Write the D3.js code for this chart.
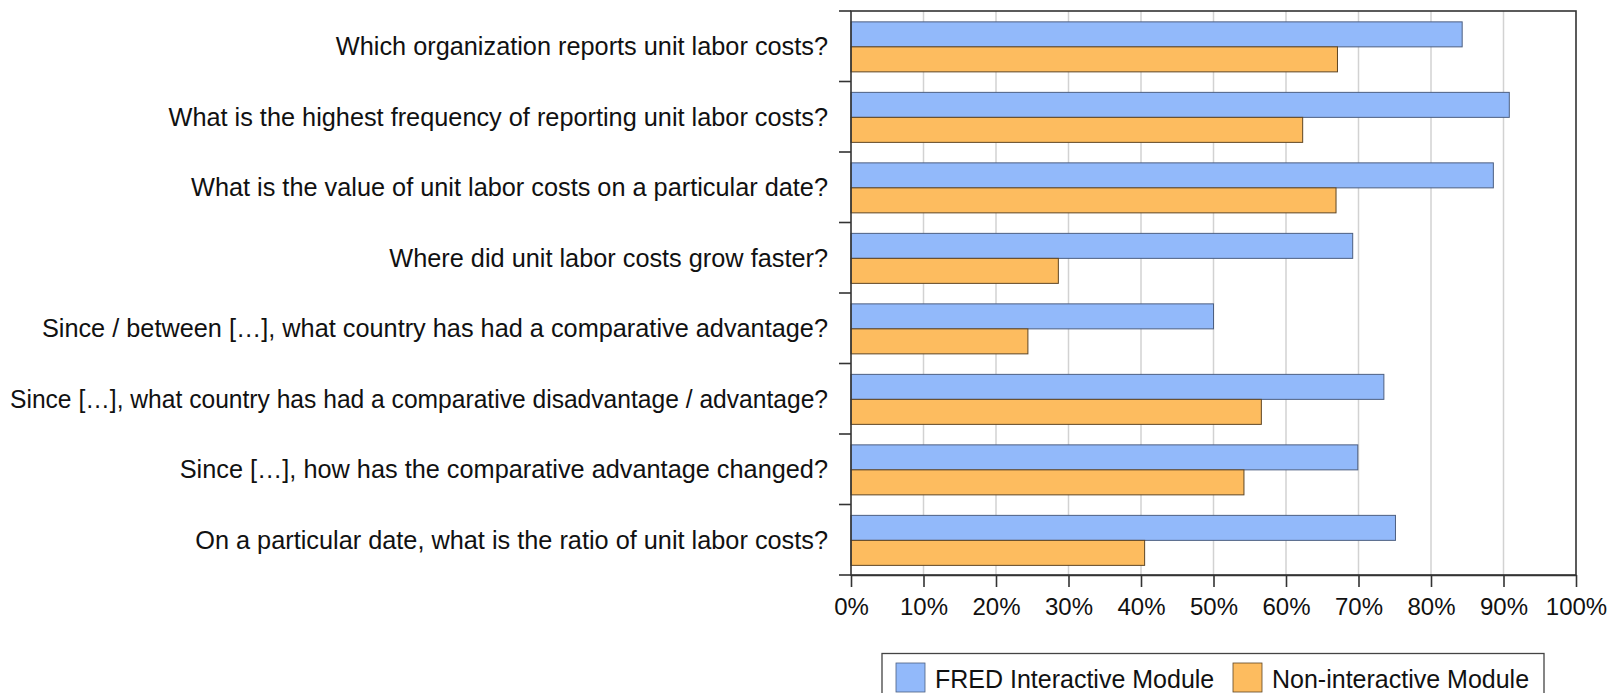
<!DOCTYPE html>
<html>
<head>
<meta charset="utf-8">
<script src="https://cdn.jsdelivr.net/npm/d3@7"></script>
<style>
  html, body { margin: 0; padding: 0; background: #fff; }
  svg { display: block; font-family: Arial, "Liberation Sans", sans-serif; }
</style>
</head>
<body>
<svg id="chart" width="1611" height="693"></svg>
<script>
const categories = [
  "Which organization reports unit labor costs?",
  "What is the highest frequency of reporting unit labor costs?",
  "What is the value of unit labor costs on a particular date?",
  "Where did unit labor costs grow faster?",
  "Since / between […], what country has had a comparative advantage?",
  "Since […], what country has had a comparative disadvantage / advantage?",
  "Since […], how has the comparative advantage changed?",
  "On a particular date, what is the ratio of unit labor costs?"
];
const seriesNames = ["FRED Interactive Module", "Non-interactive Module"];
const fredValues = [84.3, 90.8, 88.6, 69.2, 50.0, 73.5, 69.9, 75.1];
const nonValues  = [67.1, 62.3, 66.9, 28.6, 24.4, 56.6, 54.2, 40.5];
const xTicks = [0, 10, 20, 30, 40, 50, 60, 70, 80, 90, 100];
const xTickLabels = ["0%", "10%", "20%", "30%", "40%", "50%", "60%", "70%", "80%", "90%", "100%"];

const colors = ["#92b9fa", "#fdbc5f"];
const strokes = ["#4d5f80", "#5e4524"];

const svg = d3.select("#chart");
const pLeft = 851, pTop = 11, pRight = 1576, pBottom = 575;

const x = d3.scaleLinear().domain([0, 100]).range([pLeft, pRight]);
const y = d3.scaleBand().domain(categories).range([pTop, pBottom]).padding(0);
const yInner = d3.scaleBand().domain(seriesNames).range([0, y.bandwidth()])
  .paddingInner(0).paddingOuter(0.41).align(0.53);

const data = categories.map((c, i) => ({ cat: c, vals: [fredValues[i], nonValues[i]] }));

// gridlines
svg.append("g").selectAll("line")
  .data(xTicks.filter(t => t > 0 && t < 100))
  .join("line")
  .attr("x1", d => x(d)).attr("x2", d => x(d))
  .attr("y1", pTop).attr("y2", pBottom)
  .attr("stroke", "#d2d2d2").attr("stroke-width", 1.5);

// bars
const groups = svg.append("g").selectAll("g")
  .data(data).join("g")
  .attr("transform", d => `translate(0,${y(d.cat)})`);

groups.selectAll("rect")
  .data(d => d.vals.map((v, k) => ({ v, k })))
  .join("rect")
  .attr("x", x(0))
  .attr("y", d => yInner(seriesNames[d.k]))
  .attr("width", d => x(d.v) - x(0))
  .attr("height", yInner.bandwidth())
  .attr("fill", d => colors[d.k])
  .attr("stroke", d => strokes[d.k])
  .attr("stroke-width", 1);

// frame
svg.append("rect")
  .attr("x", pLeft).attr("y", pTop)
  .attr("width", pRight - pLeft).attr("height", pBottom - pTop)
  .attr("fill", "none").attr("stroke", "#333").attr("stroke-width", 1.6);

// x axis
const xAxis = d3.axisBottom(x)
  .tickValues(xTicks)
  .tickFormat((d, i) => xTickLabels[i])
  .tickSize(12).tickSizeOuter(0).tickPadding(11);
const gx = svg.append("g").attr("transform", `translate(0,${pBottom})`).call(xAxis);
gx.select(".domain").attr("stroke", "#333").attr("stroke-width", 1.6);
gx.selectAll(".tick line").attr("stroke", "#333").attr("stroke-width", 1.6);
gx.selectAll(".tick text").attr("font-size", 24).attr("fill", "#111")
  .attr("font-family", "Arial, 'Liberation Sans', sans-serif");

// y ticks at boundaries
const boundaries = d3.range(categories.length + 1).map(i => pTop + i * y.step());
svg.append("g").selectAll("line")
  .data(boundaries).join("line")
  .attr("x1", pLeft - 12).attr("x2", pLeft)
  .attr("y1", d => d).attr("y2", d => d)
  .attr("stroke", "#333").attr("stroke-width", 1.6);

// y labels
const labelRight = 828, labelMaxWidth = 818;
svg.append("g").selectAll("text")
  .data(categories).join("text")
  .attr("x", labelRight)
  .attr("y", d => y(d) + y.bandwidth() / 2)
  .attr("dy", "0.36em")
  .attr("text-anchor", "end")
  .attr("font-size", 25.3)
  .attr("fill", "#111")
  .text(d => d)
  .each(function () {
    const w = this.getComputedTextLength();
    if (w > labelMaxWidth) {
      d3.select(this).attr("textLength", labelMaxWidth).attr("lengthAdjust", "spacingAndGlyphs");
    }
  });

// legend
const lg = svg.append("g");
lg.append("rect")
  .attr("x", 882).attr("y", 653.5).attr("width", 662).attr("height", 45)
  .attr("fill", "#fff").attr("stroke", "#444").attr("stroke-width", 1.3);
const legendItems = [
  { name: seriesNames[0], sx: 896, tx: 935 },
  { name: seriesNames[1], sx: 1233, tx: 1272 }
];
legendItems.forEach((it, k) => {
  lg.append("rect")
    .attr("x", it.sx).attr("y", 663).attr("width", 29).attr("height", 29)
    .attr("fill", colors[k]).attr("stroke", strokes[k]).attr("stroke-width", 0.8);
  lg.append("text")
    .attr("x", it.tx).attr("y", 679).attr("dy", "0.36em")
    .attr("font-size", 25).attr("fill", "#111").text(it.name);
});
</script>
</body>
</html>
